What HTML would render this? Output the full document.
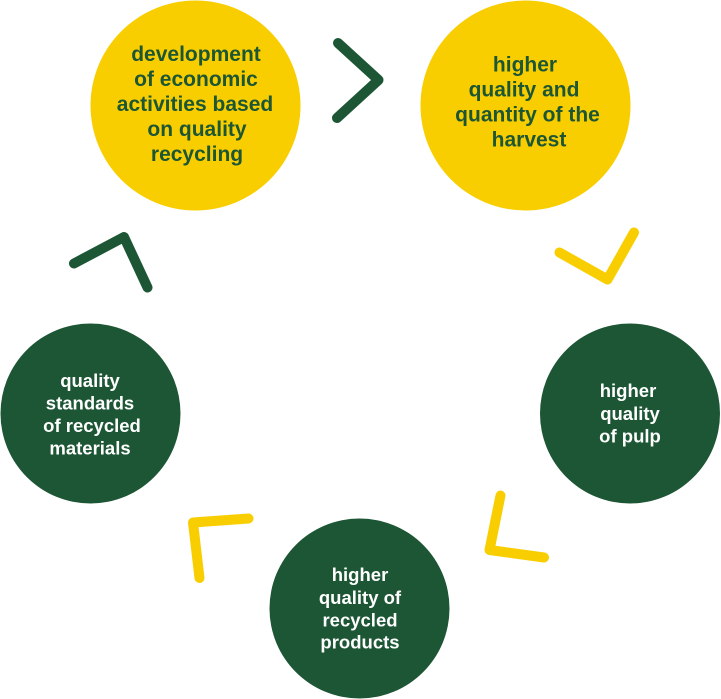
<!DOCTYPE html>
<html>
<head>
<meta charset="utf-8">
<style>
  html, body { margin: 0; padding: 0; background: #ffffff; }
  body { width: 721px; height: 699px; overflow: hidden; }
  svg { display: block; }
  text { font-family: "Liberation Sans", Arial, sans-serif; font-weight: bold; }
</style>
</head>
<body>
<svg width="721" height="699" viewBox="0 0 721 699" xmlns="http://www.w3.org/2000/svg">
  <!-- circles -->
  <circle cx="195.5" cy="105.5" r="105" fill="#F9CE00"/>
  <circle cx="525.5" cy="105.5" r="105" fill="#F9CE00"/>
  <circle cx="90.5" cy="413.5" r="90" fill="#1C5634"/>
  <circle cx="630" cy="413.5" r="90" fill="#1C5634"/>
  <circle cx="359.5" cy="608.5" r="90" fill="#1C5634"/>

  <!-- chevrons -->
  <g fill="none" stroke-width="10" stroke-linecap="round" stroke-linejoin="round">
    <polyline points="338,43 378.5,80 337,118" stroke="#1C5634"/>
    <polyline points="559.5,252.5 607.5,279.5 634,232.5" stroke="#F9CE00"/>
    <polyline points="74,263.5 124,237 147.5,287.5" stroke="#1C5634"/>
    <polyline points="248.5,518.5 193,522.5 199.5,578" stroke="#F9CE00"/>
    <polyline points="500.5,495.5 489.5,550 544,557.5" stroke="#F9CE00"/>
  </g>

  <!-- yellow circle 1 text -->
  <g fill="#1C5634" font-size="21" text-anchor="middle">
    <text x="196" y="61">development</text>
    <text x="196" y="86">of economic</text>
    <text x="195" y="111">activities based</text>
    <text x="197" y="136">on quality</text>
    <text x="197" y="161">recycling</text>
  </g>

  <!-- yellow circle 2 text -->
  <g fill="#1C5634" font-size="21" text-anchor="middle">
    <text x="525" y="71.5">higher</text>
    <text x="524" y="96.5">quality and</text>
    <text x="527.5" y="121.5">quantity of the</text>
    <text x="529" y="146.5">harvest</text>
  </g>

  <!-- left green circle text -->
  <g fill="#ffffff" font-size="18.5" text-anchor="middle">
    <text x="90" y="387">quality</text>
    <text x="90" y="409.5">standards</text>
    <text x="92" y="432">of recycled</text>
    <text x="90" y="454.5">materials</text>
  </g>

  <!-- pulp circle text -->
  <g fill="#ffffff" font-size="18.5" text-anchor="middle">
    <text x="628" y="397">higher</text>
    <text x="630" y="420">quality</text>
    <text x="630" y="442.5">of pulp</text>
  </g>

  <!-- products circle text -->
  <g fill="#ffffff" font-size="18.5" text-anchor="middle">
    <text x="360" y="581">higher</text>
    <text x="360" y="604">quality of</text>
    <text x="360" y="626.5">recycled</text>
    <text x="360" y="648.5">products</text>
  </g>
</svg>
</body>
</html>
